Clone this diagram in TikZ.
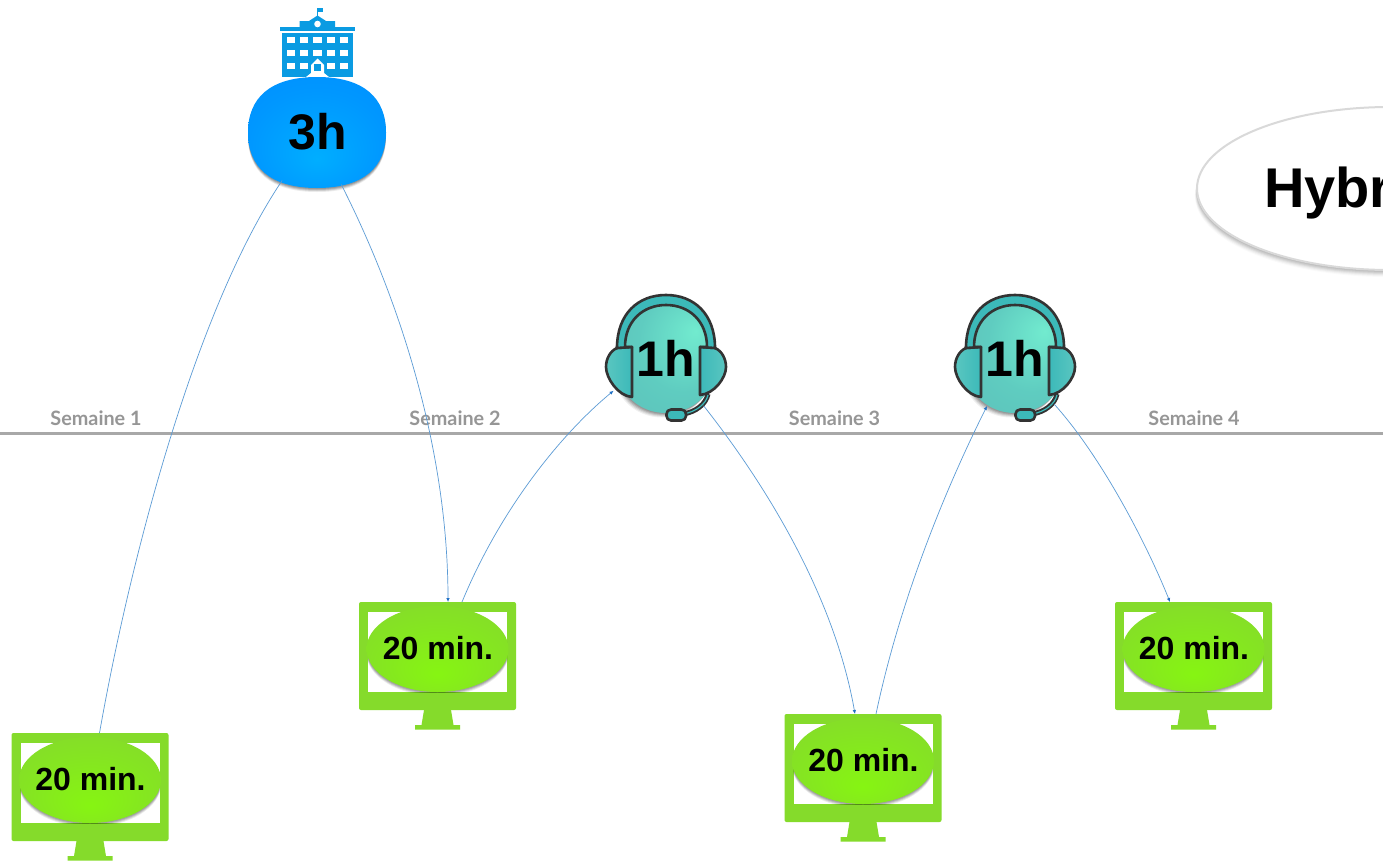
\documentclass[tikz,border=0pt]{standalone}
\usepackage{fontspec}
\setmainfont{Liberation Sans}
\newfontfamily\labelfont{Lato}
\usetikzlibrary{calc,arrows.meta,shapes.geometric}
\definecolor{framegreen}{HTML}{85DB2B}
\definecolor{axisgray}{HTML}{A8A8A8}
\definecolor{labelgray}{HTML}{969696}
\definecolor{linkblue}{HTML}{5B9BD5}
\definecolor{tipblue}{HTML}{1F6FC4}
\definecolor{buildblue}{HTML}{0A9BE2}
\definecolor{headteal}{HTML}{3CB9B9}
\definecolor{earlight}{HTML}{5AC6C0}
\definecolor{headdark}{HTML}{333333}
\definecolor{ga}{HTML}{86F512}
\definecolor{gb}{HTML}{85DF27}
\definecolor{gc}{HTML}{85D62F}
\definecolor{ba}{HTML}{00AEFF}
\definecolor{bb}{HTML}{0097FF}
\definecolor{bc}{HTML}{0088FF}
\definecolor{ta}{HTML}{72EBCF}
\definecolor{tb}{HTML}{5FCCC0}
\definecolor{tc}{HTML}{5BBCB8}
\pgfdeclareradialshading{greenball}{\pgfpoint{0bp}{-15bp}}{color(0bp)=(ga); color(30bp)=(gb); color(50bp)=(gc)}
\pgfdeclareradialshading{blueball}{\pgfpoint{0bp}{-12bp}}{color(0bp)=(ba); color(25bp)=(bb); color(50bp)=(bc)}
\pgfdeclareradialshading{tealball}{\pgfpoint{15bp}{11bp}}{color(0bp)=(ta); color(22bp)=(tb); color(50bp)=(tc)}
\tikzset{
  hidden/.style={inner sep=0pt,outer sep=0pt},
  bigtext/.style={font=\bfseries\fontsize{50}{50}\selectfont,text=black},
  mintext/.style={font=\bfseries\fontsize{32}{32}\selectfont,text=black},
  weektext/.style={font=\labelfont\bfseries\fontsize{19.8}{20}\selectfont,text=labelgray},
  link/.style={draw=linkblue,line width=0.7pt},
  linkarrow/.style={link,-{Latex[length=4pt,width=3.5pt,color=tipblue]}},
  headline/.style={draw=headdark,line width=2.6pt,line join=round},
}
\newcommand{\eggpath}{(0,-55) .. controls (28,-55) and (50,-30) .. (50,8) .. controls (50,38) and (28,59) .. (0,59) .. controls (-28,59) and (-50,38) .. (-50,8) .. controls (-50,-30) and (-28,-55) .. (0,-55) -- cycle}
\newcommand{\monitorshape}[4]{% name, dx, dy, text
  \begin{scope}[shift={(#2,#3)}]
    \fill[framegreen,rounded corners=2] (359,602) rectangle (516,710);
    \fill[white] (368,612) rectangle (507,692);
    \begin{scope}
      \clip (368,612) rectangle (507,692);
      \foreach \s/\o in {1/.12,2/.12,3/.10,4/.08}
        \fill[black,opacity=\o] (437.5,649+\s) ellipse [x radius=71,y radius=43];
    \end{scope}
    \fill[framegreen] (424,710) -- (451,710) -- (453.5,725) -- (460,725) -- (460,729.5) -- (415,729.5) -- (415,725) -- (421.5,725) -- cycle;
    \shade[shading=greenball] (437.5,649) ellipse [x radius=71,y radius=43];
    \node[hidden,minimum width=157,minimum height=108] (#1) at (437.5,656) {};
    \node[hidden,mintext] (#1t) at (438,648) {#4};
  \end{scope}
}
\newcommand{\headsetshape}[3]{% name, cx, cy
  \begin{scope}[shift={(#2,#3)}]
    \foreach \s/\o in {1/.12,2/.12,3/.10,4/.08,5/.06}{
      \begin{scope}[shift={(-\s*0.7,\s*0.9)}]
        \fill[black,opacity=\o] \eggpath;
      \end{scope}
    }
    \shade[shading=tealball] \eggpath;
    \path[left color=earlight,right color=headteal,headline] (-49,-6) .. controls (-56,-3) and (-60,5) .. (-60,13) .. controls (-60,24) and (-48,42) .. (-34,43) -- (-34,-7) -- cycle;
    \path[right color=earlight,left color=headteal,headline] (49,-6) .. controls (56,-3) and (60,5) .. (60,13) .. controls (60,24) and (48,40) .. (34,41) -- (34,-7) -- cycle;
    \fill[headteal,headline] (-49,-6) .. controls (-49,-40) and (-28,-59) .. (0,-59) .. controls (28,-59) and (49,-40) .. (49,-6) -- (34,-7) -- (41,-7) .. controls (41,-33) and (23,-49) .. (0,-49) .. controls (-23,-49) and (-41,-33) .. (-41,-7) -- (-34,-7) -- cycle;
    \draw[headdark,line width=5pt] (17,60) .. controls (30,58) and (40,50) .. (42,40);
    \draw[headteal,line width=1.2pt] (17,60) .. controls (30,58) and (40,50) .. (42,41);
    \fill[headteal,headline,rounded corners=4.5] (0.5,55.5) rectangle (20,66.5);
    \node[hidden,circle,minimum size=128] (#1) at (0,0) {};
    \node[hidden,bigtext] (#1t) at (0,4) {1h};
  \end{scope}
}
\begin{document}
\begin{tikzpicture}[x=1pt,y=-1pt]
\useasboundingbox (0,0) rectangle (1383,860);
\clip (0,0) rectangle (1383,860);
\fill[white] (0,0) rectangle (1383,860);

% axis
\coordinate (axisL) at (0,433.5);
\coordinate (axisR) at (1383,433.5);
\draw[axisgray,line width=2.6pt] (axisL) -- (axisR);
\node[hidden,weektext] (w1) at (96,418) {Semaine 1};
\node[hidden,weektext] (w2) at (455,418) {Semaine 2};
\node[hidden,weektext] (w3) at (834.5,418) {Semaine 3};
\node[hidden,weektext] (w4) at (1194,418) {Semaine 4};

% Hybrid ellipse
\foreach \s/\o in {1/.06,2/.06,3/.06,4/.05,5/.04,6/.03,7/.02}
  \fill[black,opacity=\o] (1390-\s*0.3,188.5+\s) ellipse [x radius=193,y radius=81.5];
\fill[white,draw=black!15,line width=2pt] (1390,188.5) ellipse [x radius=193,y radius=81.5];
\node[hidden,anchor=base west,font=\bfseries\fontsize{56}{56}\selectfont] (hyb) at (1264,207) {Hybr};

% building
\fill[buildblue] (282,33) rectangle (353,77);
\fill[buildblue] (280,27) rectangle (355,31);
\fill[buildblue] (299.5,27) -- (299.5,21) -- (309,21) -- (317.5,15.5) -- (326,21) -- (335,21) -- (335,27) -- cycle;
\draw[buildblue,line width=0.9pt] (317.5,16) -- (317.5,8);
\fill[buildblue] (318,8) rectangle (322.5,12);
\fill[white] (317.5,24) circle [radius=3.3];
\foreach \x in {286.7,300,313.3,326.7,340}
  \foreach \y in {37.3,50}
    \fill[white] (\x,\y) rectangle ++(8.4,6);
\foreach \x in {286.7,300,326.7,340}
  \fill[white] (\x,62.7) rectangle ++(8.4,6);
\fill[white] (311,65) -- (317.5,58.5) -- (324,65) -- (324,73) -- (329,77) -- (306,77) -- (311,73) -- cycle;
\fill[buildblue] (314,63.5) rectangle (321,70.7);

% blue blob
\foreach \s/\o in {1/.14,2/.14,3/.12,4/.08}
  \fill[black,opacity=\o] (248,132.5+\s) .. controls (248,98+\s) and (270,77+\s) .. (317,77+\s) .. controls (364,77+\s) and (386,98+\s) .. (386,132.5+\s) .. controls (386,167+\s) and (364,188+\s) .. (317,188+\s) .. controls (270,188+\s) and (248,167+\s) .. (248,132.5+\s) -- cycle;
\shade[shading=blueball] (248,132.5) .. controls (248,98) and (270,77) .. (317,77) .. controls (364,77) and (386,98) .. (386,132.5) .. controls (386,167) and (364,188) .. (317,188) .. controls (270,188) and (248,167) .. (248,132.5) -- cycle;
\node[hidden,ellipse,minimum width=138,minimum height=111] (blob) at (317,132.5) {};
\node[hidden,bigtext] (blobt) at (318,132) {3h};

% monitors
\monitorshape{m1}{-347.5}{131}{20 min.}
\monitorshape{m2}{0}{0}{20 min.}
\monitorshape{m3}{425.5}{112}{20 min.}
\monitorshape{m4}{756}{0}{20 min.}

% headsets
\headsetshape{h1}{666}{354}
\headsetshape{h2}{1015}{354}

% connectors
\draw[link] (blob.234) .. controls (195,310) and (130,560) .. ($(m1.north)+(9.5,0)$);
\draw[linkarrow] (blob.295) .. controls (400,300) and (448,450) .. ($(m2.north)+(10.5,0)$);
\draw[linkarrow] ($(m2.north)+(24.5,0)$) .. controls (500,510) and (560,435) .. (h1.215);
\draw[linkarrow] (h1.306) .. controls (770,490) and (835,600) .. ($(m3.north)+(-8,0)$);
\draw[linkarrow] ($(m3.north)+(13,0)$) .. controls (900,600) and (945,490) .. ($(h2.center)+(-28,52)$);
\draw[linkarrow] (h2.308) .. controls (1100,455) and (1145,540) .. ($(m4.north)+(-23.5,0)$);
\end{tikzpicture}
\end{document}
